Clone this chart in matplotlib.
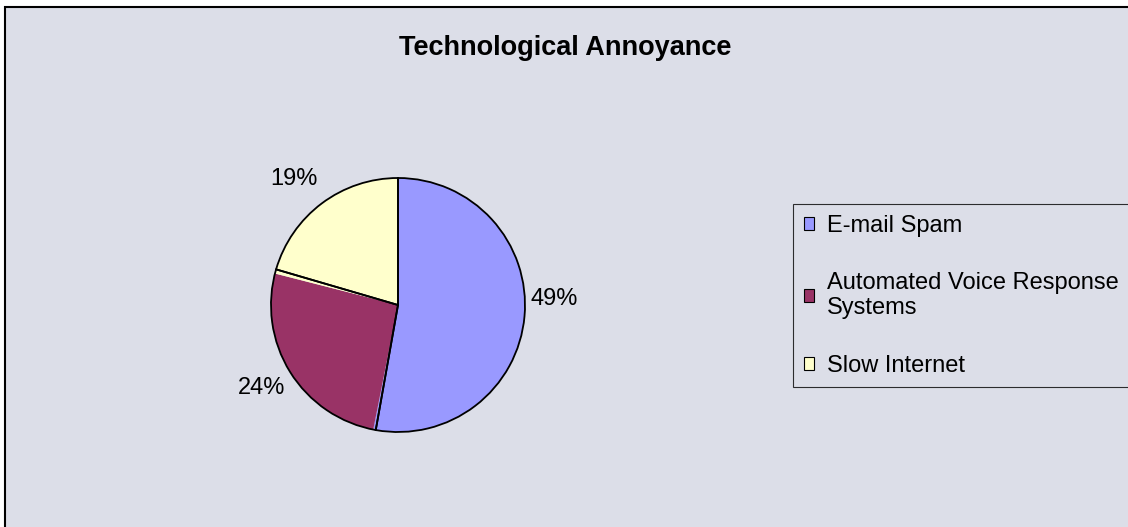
import matplotlib.pyplot as plt
from matplotlib.patches import Patch, Rectangle

plt.rcParams['font.family'] = ['Liberation Sans', 'DejaVu Sans']

# Data
categories = ['E-mail Spam', 'Automated Voice Response\nSystems', 'Slow Internet']
values = [49, 24, 19]
pct_labels = ['49%', '24%', '19%']
colors = ['#9999ff', '#993366', '#ffffcc']
# thin slivers visible after the first and before the last slice
sliver_after_spam = 0.3
sliver_before_slow = 0.5

bg = '#dcdee8'

fig = plt.figure(figsize=(11.28, 5.27), dpi=100)
fig.patch.set_facecolor('white')

# chart area (border runs off the right / bottom edge)
fig.patches.append(Rectangle((5 / 1128, -0.05), 1.1, 1 - 7 / 527 + 0.05,
                             transform=fig.transFigure, facecolor=bg,
                             edgecolor='black', linewidth=1.5, zorder=-5))

fig.text(565 / 1128, 1 - 48 / 527, 'Technological Annoyance',
         ha='center', va='center', fontsize=19.5, fontweight='bold')

ax = fig.add_axes([271 / 1128, 95 / 527, 254 / 1128, 254 / 527])
ax.set_facecolor('none')
ax.set_zorder(2)

# fill: main slices plus slivers, no outlines
fill_vals = [values[0], sliver_after_spam, values[1], sliver_before_slow, values[2]]
fill_cols = [colors[0], colors[0], colors[1], colors[2], colors[2]]
fill_labels = [pct_labels[0], '', pct_labels[1], '', pct_labels[2]]
wedges, texts = ax.pie(fill_vals, colors=fill_cols, labels=fill_labels,
                       startangle=90, counterclock=False, labeldistance=1.05,
                       wedgeprops=dict(linewidth=0),
                       textprops=dict(fontsize=17))

# nudge the labels vertically the way the original places them
for t, dy in zip([texts[0], texts[2], texts[4]], [0.14, -0.095, 0.15]):
    t.set_y(t.get_position()[1] + dy)

# outlines
outline_vals = [values[0], sliver_after_spam + values[1] + sliver_before_slow, values[2]]
ax.pie(outline_vals, startangle=90, counterclock=False,
       wedgeprops=dict(facecolor='none', edgecolor='black', linewidth=1.3))

ax.set_xlim(-1, 1)
ax.set_ylim(-1, 1)
ax.set_aspect('equal')

handles = [Patch(facecolor=c, edgecolor='black', linewidth=0.8) for c in colors]
leg = fig.legend(handles, categories, loc='upper left',
                 bbox_to_anchor=(793 / 1128, 1 - 204 / 527),
                 fontsize=17, frameon=True, fancybox=False,
                 handlelength=0.45, handleheight=0.45, handletextpad=0.55,
                 labelspacing=1.5, borderpad=0.45, borderaxespad=0)
leg.get_frame().set_facecolor(bg)
leg.get_frame().set_edgecolor('black')
leg.get_frame().set_linewidth(0.8)

fig.savefig('out.png', dpi=100, facecolor=fig.get_facecolor())
